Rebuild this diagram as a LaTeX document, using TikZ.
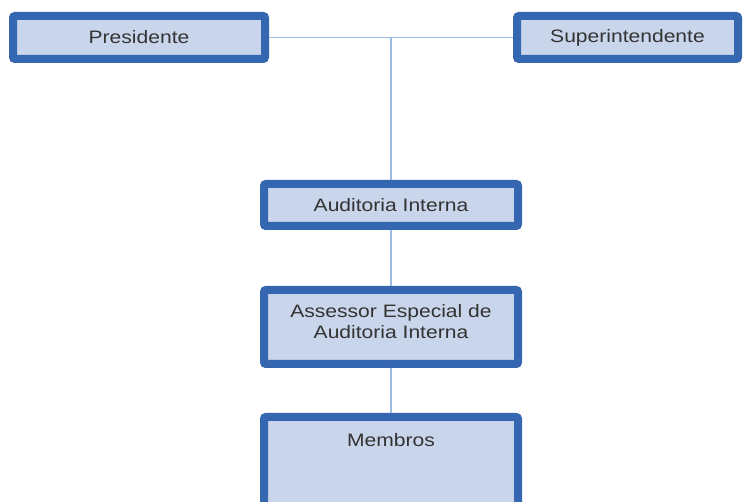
\documentclass[tikz,border=0pt]{standalone}
\usepackage{fontspec}
\setmainfont[FakeStretch=1.17]{Liberation Sans}
\definecolor{boxfill}{HTML}{C8D5EA}
\definecolor{boxline}{HTML}{3566B0}
\definecolor{conn}{HTML}{9CBBE0}
\begin{document}
\begin{tikzpicture}[x=1pt,y=-1pt,
  orgbox/.style={draw=boxline, fill=boxfill, line width=8pt, rounded corners=2pt,
    rectangle, inner sep=0pt, align=center, font=\fontsize{18}{21}\selectfont, text=black!80},
  orgtext/.style={align=center, inner sep=0pt, font=\fontsize{18}{21}\selectfont, text=black!80},
  conline/.style={draw=conn, line width=1.2pt}]
\useasboundingbox (0,0) rectangle (750,502);
\clip (0,0) rectangle (750,502);
\node[orgbox, minimum width=252pt, minimum height=43pt] (pres) at (139,37.5) {Presidente};
\node[orgbox, minimum width=221pt, minimum height=43pt] (sup) at (627.5,37.5) {Superintendente};
\node[orgbox, minimum width=254pt, minimum height=42pt] (aud) at (391,205) {Auditoria Interna};
\node[orgbox, minimum width=254pt, minimum height=74pt] (ass) at (391,327) {};
\node[orgtext] (asst) at (391,322) {Assessor Especial de\\Auditoria Interna};
\node[orgbox, minimum width=254pt, minimum height=100pt] (mem) at (391,467) {};
\node[orgtext] (memt) at (391,440) {Membros};
\coordinate (j) at (391,38);
\draw[conline] (pres.east) -- (sup.west);
\draw[conline] (j) -- (aud.north);
\draw[conline] (aud.south) -- (ass.north);
\draw[conline] (ass.south) -- (mem.north);
\end{tikzpicture}
\end{document}
